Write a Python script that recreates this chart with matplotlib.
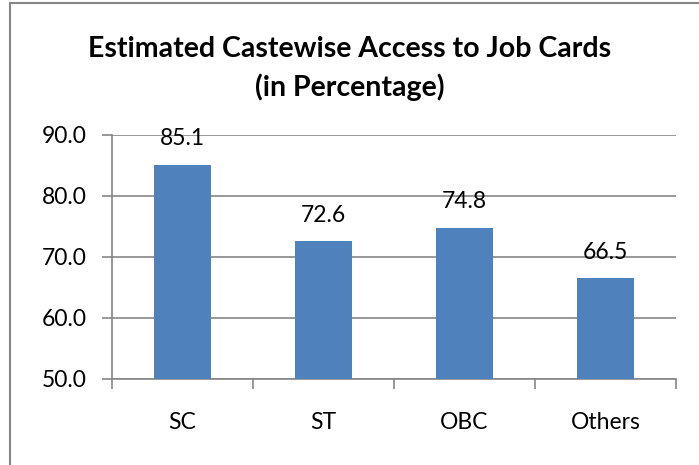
import matplotlib.pyplot as plt
from matplotlib.patches import Rectangle

categories = ['SC', 'ST', 'OBC', 'Others']
values = [85.1, 72.6, 74.8, 66.5]
yticks = [50, 60, 70, 80, 90]

plt.rcParams['font.family'] = ['Lato', 'DejaVu Sans']
grey = '#868686'

fig = plt.figure(figsize=(6.99, 4.65), dpi=100)
ax = fig.add_axes([0.160, 0.185, 0.807, 0.525])

x = range(len(categories))
ax.bar(x, [v - 50 for v in values], bottom=50, width=0.40, color='#4F81BD', zorder=3)
for i, v in zip(x, values):
    ax.annotate('%.1f' % v, (i, v), xytext=(0, 11), textcoords='offset points',
                ha='center', va='bottom', fontsize=16.5)

ax.set_ylim(50, 90)
ax.set_xlim(-0.5, len(categories) - 0.5)
ax.set_yticks(yticks)
ax.set_yticklabels(['%.1f' % t for t in yticks], fontsize=16.5)
ax.yaxis.grid(True, color=grey, linewidth=1.2, zorder=0)
ax.set_xticks([i + 0.5 for i in range(-1, len(categories))], minor=False)
ax.set_xticklabels([])
ax.set_xticks(list(x), minor=True)
ax.set_xticklabels(categories, minor=True, fontsize=16.5)
ax.tick_params(axis='x', which='major', length=7, color=grey, width=1.2)
ax.tick_params(axis='x', which='minor', length=0, pad=24)
ax.tick_params(axis='y', length=7, color=grey, width=1.2, pad=11)
for s in ['top', 'right']:
    ax.spines[s].set_visible(False)
for s in ['left', 'bottom']:
    ax.spines[s].set_color(grey)
    ax.spines[s].set_linewidth(1.2)

fig.text(0.5, 0.853, 'Estimated Castewise Access to Job Cards\n(in Percentage)',
         ha='center', va='center', fontsize=20.5, fontweight='bold', linespacing=1.5)

fig.patches.append(Rectangle((10 / 699, -0.05), 1.0, 1 - 3 / 465 + 0.05,
                             transform=fig.transFigure, fill=False,
                             edgecolor=grey, linewidth=1.5))

fig.savefig('out.png', dpi=100)
